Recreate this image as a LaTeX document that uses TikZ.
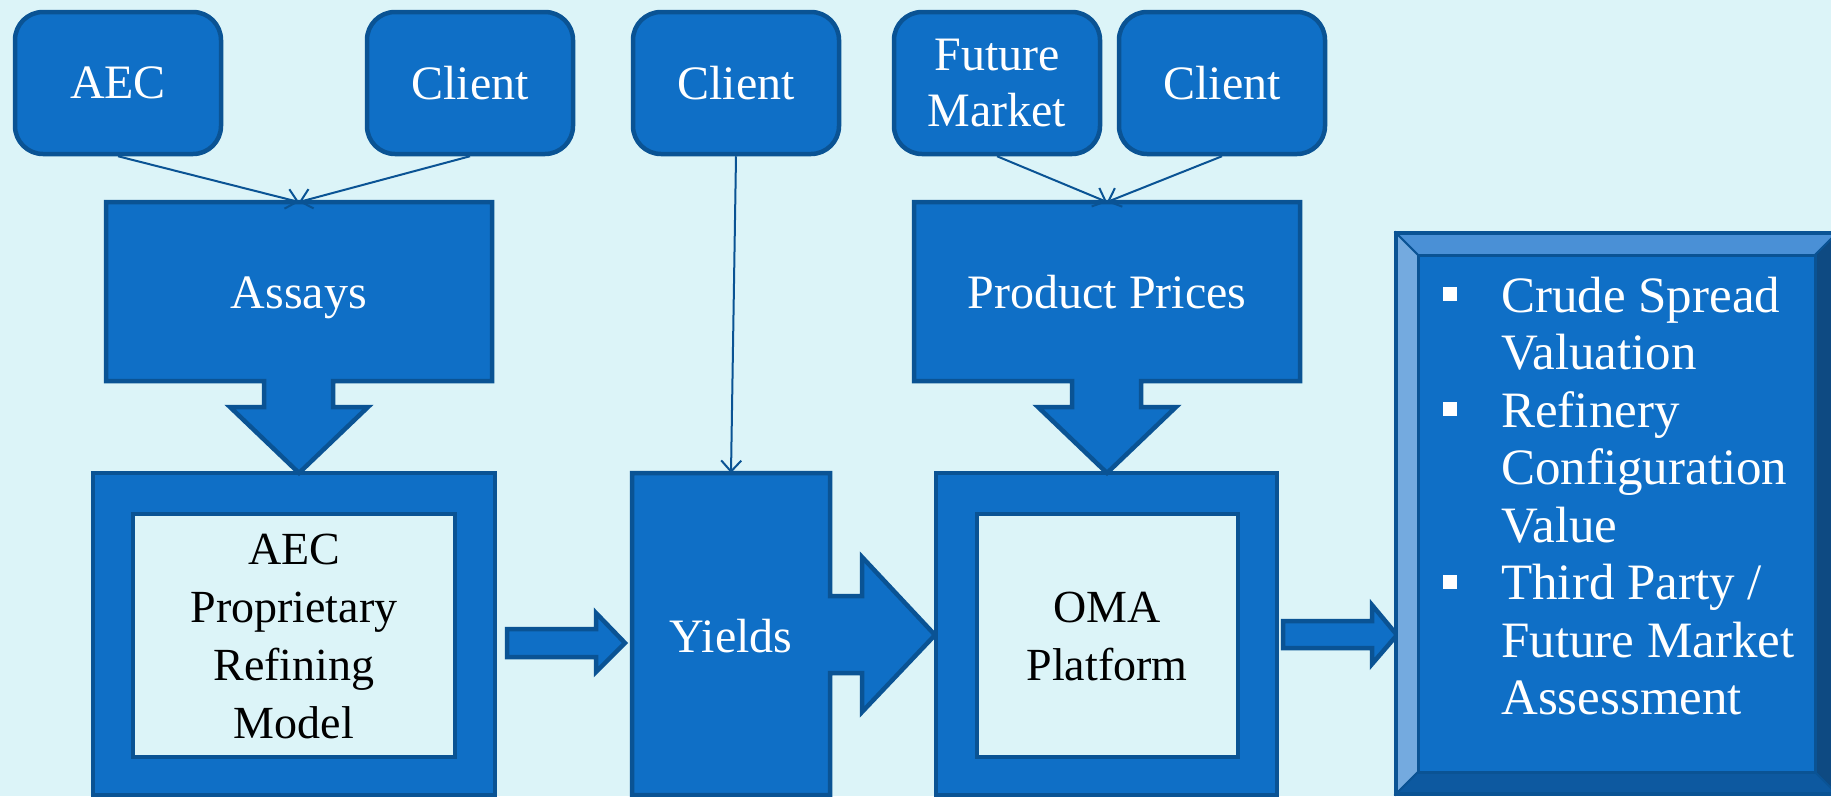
\documentclass[tikz,border=0pt]{standalone}
\usepackage{fontspec}
\setmainfont{Liberation Serif}
\usetikzlibrary{arrows.meta,calc}
\definecolor{bgc}{HTML}{DCF4F8}
\definecolor{boxc}{HTML}{0F6FC6}
\definecolor{edgec}{HTML}{0A5394}
\definecolor{bevtop}{HTML}{4A90D6}
\definecolor{bevleft}{HTML}{74AADF}
\definecolor{bevright}{HTML}{0E4A82}
\definecolor{bevbot}{HTML}{0D59A0}
\newcommand\sqbul{\makebox[58pt][l]{\raisebox{11pt}{\rule{14pt}{14pt}}}}
\begin{document}
\begin{tikzpicture}[x=1pt,y=-1pt,
  topbox/.style={draw=edgec, fill=boxc, line width=4.5pt, rounded corners=28pt,
    minimum width=206pt, minimum height=142pt, text=white,
    font=\fontsize{48}{56}\selectfont, align=center, inner sep=0pt},
  shapebox/.style={draw=edgec, fill=boxc, line width=4.5pt, line join=miter},
  innerbox/.style={draw=edgec, fill=bgc, line width=4.5pt},
  wtext/.style={text=white, font=\fontsize{48}{56}\selectfont, align=center, inner sep=0pt},
  btext/.style={text=black, font=\fontsize{46}{58}\selectfont, align=center, inner sep=0pt},
  bevel/.style={draw=edgec, line width=2pt, line join=miter},
  conn/.style={draw=edgec, line width=2pt, -{Straight Barb[length=11pt, width=20pt, line width=2pt]}}
]
\useasboundingbox (0,0) rectangle (1831,796);
\fill[bgc] (0,0) rectangle (1831,796);
\clip (0,0) rectangle (1831,796);

% top source boxes
\node[topbox] (aec) at (118,83) {AEC};
\node[topbox] (client1) at (470,83) {Client};
\node[topbox] (client2) at (736,83) {Client};
\node[topbox] (future) at (997,83) {Future\\Market};
\node[topbox] (client3) at (1222,83) {Client};

% lower boxes
\draw[shapebox] (93,473) rectangle (495,795);
\draw[innerbox] (133,514) rectangle (455,757);
\node[btext] (model) at (294,636) {AEC\\Proprietary\\Refining\\Model};

\draw[shapebox] (632,473) -- (830,473) -- (830,596) -- (862,596) -- (862,557)
  -- (935,635) -- (862,712) -- (862,673) -- (830,673) -- (830,795) -- (632,795) -- cycle;
\node[wtext] (yields) at (731,636) {Yields};

\draw[shapebox] (936,473) rectangle (1277,795);
\draw[innerbox] (977,514) rectangle (1238,757);
\node[btext] (oma) at (1107,636) {OMA\\Platform};

% callouts
\draw[shapebox] (106,202) -- (492,202) -- (492,381) -- (333,381) -- (333,407) -- (368,407)
  -- (299,473) -- (230,407) -- (264,407) -- (264,381) -- (106,381) -- cycle;
\node[wtext, anchor=base] (assays) at (299,308) {Assays};

\draw[shapebox] (914,202) -- (1300,202) -- (1300,381) -- (1141,381) -- (1141,407) -- (1176,407)
  -- (1107,473) -- (1038,407) -- (1072,407) -- (1072,381) -- (914,381) -- cycle;
\node[wtext, anchor=base] (prices) at (1107,308) {Product Prices};

% block arrows
\draw[shapebox] (507,629) -- (596,629) -- (596,613) -- (625,643) -- (596,672) -- (596,657) -- (507,657) -- cycle;
\draw[shapebox] (1283,621) -- (1372,621) -- (1372,605) -- (1397,635) -- (1372,664) -- (1372,648) -- (1283,648) -- cycle;

% bevelled result box
\fill[boxc] (1418,255) rectangle (1815,772);
\filldraw[bevel, fill=bevtop] (1396,233) -- (1837,233) -- (1815,255) -- (1418,255) -- cycle;
\filldraw[bevel, fill=bevleft] (1396,233) -- (1418,255) -- (1418,772) -- (1396,794) -- cycle;
\filldraw[bevel, fill=bevright] (1837,233) -- (1837,794) -- (1815,772) -- (1815,255) -- cycle;
\filldraw[bevel, fill=bevbot] (1396,794) -- (1837,794) -- (1815,772) -- (1418,772) -- cycle;
\draw[edgec, line width=3pt] (1418,255) rectangle (1815,772);
\draw[edgec, line width=4.5pt] (1396,233) rectangle (1837,794);
\node[anchor=base west, inner sep=0pt, text=white, font=\fontsize{51}{57.5}\selectfont] (results) at (1443,312)
  {\begin{tabular}[t]{@{}l@{}l@{}}
  \sqbul & Crude Spread\\
         & Valuation\\
  \sqbul & Refinery\\
         & Configuration\\
         & Value\\
  \sqbul & Third Party /\\
         & Future Market\\
         & Assessment
  \end{tabular}};

% connectors
\coordinate (assaysin) at (299,202);
\coordinate (pricesin) at (1107,202);
\coordinate (yieldsin) at (731,473);
\draw[conn] (aec.south) -- (assaysin);
\draw[conn] (client1.south) -- (assaysin);
\draw[conn] (client2.south) -- (yieldsin);
\draw[conn] (future.south) -- (pricesin);
\draw[conn] (client3.south) -- (pricesin);
\end{tikzpicture}
\end{document}
